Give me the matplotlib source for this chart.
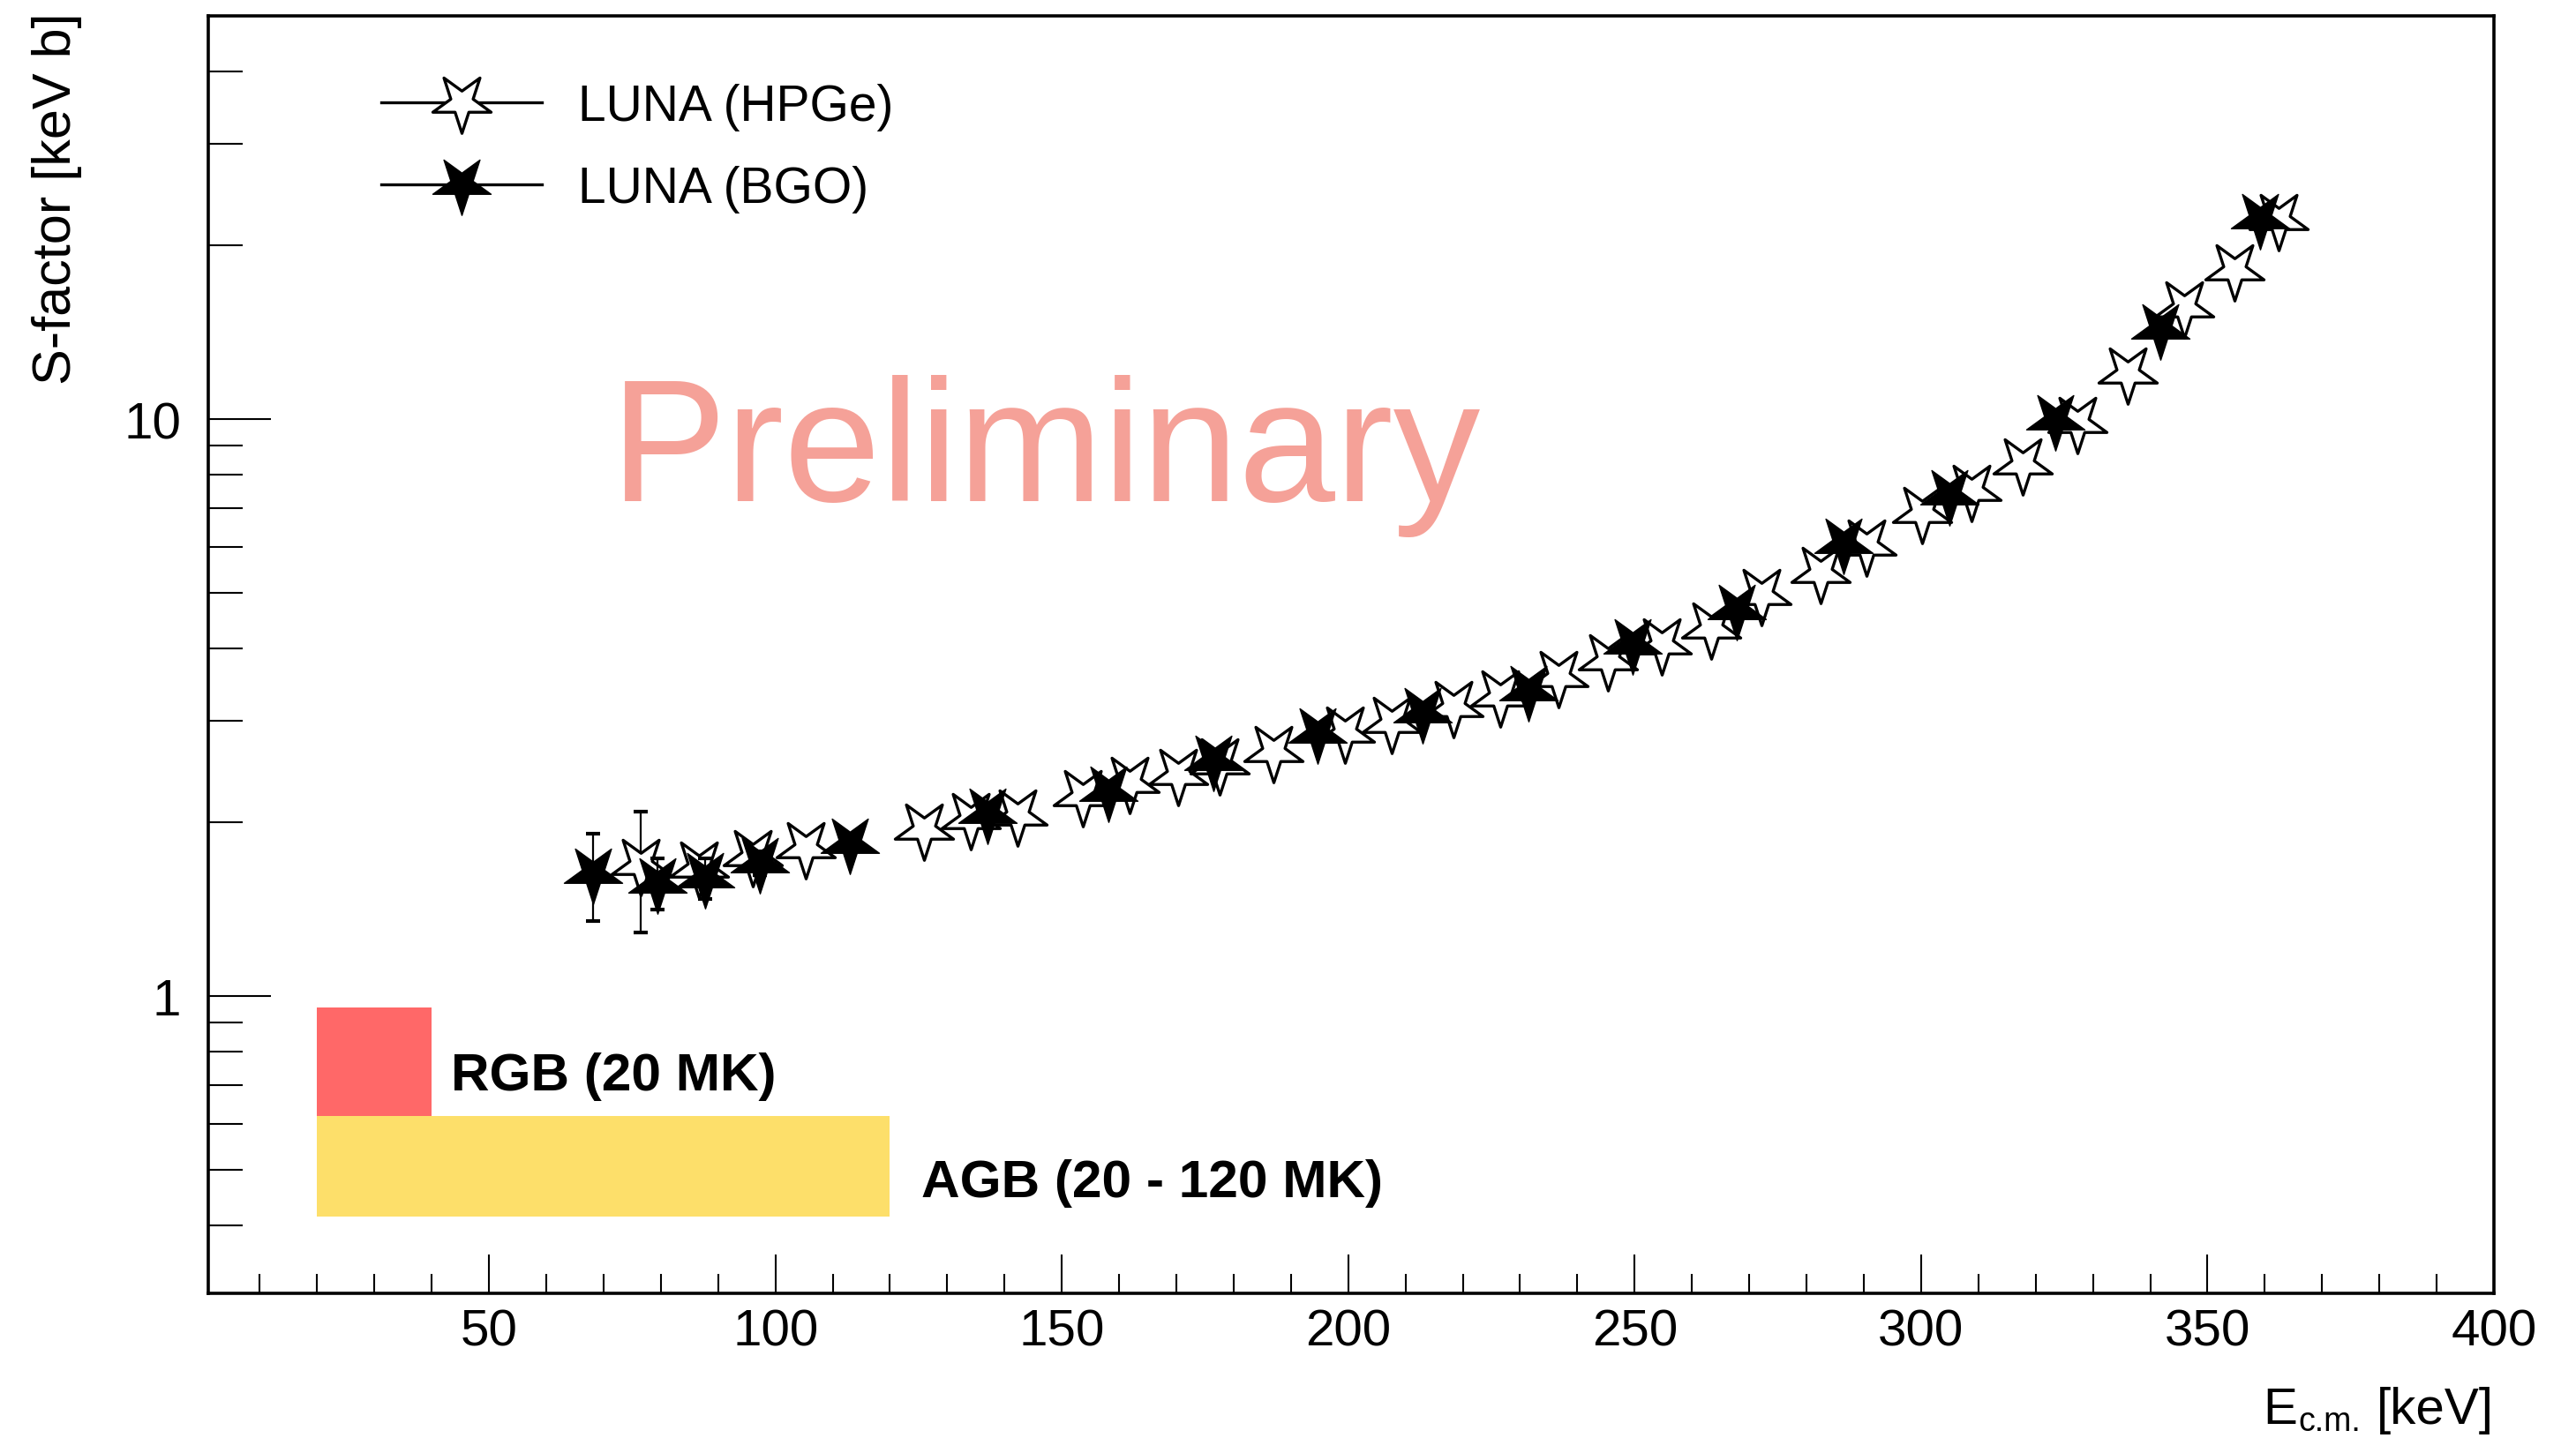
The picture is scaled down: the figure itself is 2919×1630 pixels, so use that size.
import numpy as np
import matplotlib
matplotlib.use("Agg")
import matplotlib.pyplot as plt
from matplotlib.path import Path
from matplotlib.markers import MarkerStyle
from matplotlib.lines import Line2D
from matplotlib.ticker import FixedLocator, FixedFormatter, MultipleLocator, NullFormatter

plt.rcParams['font.family'] = ['Liberation Sans', 'DejaVu Sans']

# ---------------- data ----------------
hpge_e = [76.5, 86.6, 96.0, 105.3, 125.9, 134.1, 142.3, 153.7, 161.9, 170.3,
          177.6, 186.9, 199.4, 207.6, 218.3, 226.6, 236.7, 245.3, 254.7, 263.4,
          272.1, 282.5, 290.5, 300.2, 308.8, 317.7, 327.3, 336.0, 346.0, 354.7, 362.4]
hpge_s = [1.69, 1.67, 1.75, 1.805, 1.945, 2.03, 2.06, 2.22, 2.34, 2.42,
          2.52, 2.65, 2.86, 2.98, 3.175, 3.31, 3.57, 3.83, 4.07, 4.34,
          4.96, 5.42, 6.04, 6.88, 7.52, 8.36, 9.85, 12.02, 15.65, 18.16, 22.16]
hpge_err = [0.40, 0.08, 0.06, 0.05, 0.05, 0.05, 0.05, 0.05, 0.05, 0.05,
            0.05, 0.05, 0.05, 0.05, 0.06, 0.06, 0.06, 0.07, 0.07, 0.08,
            0.09, 0.10, 0.11, 0.12, 0.13, 0.15, 0.17, 0.2, 0.25, 0.3, 0.35]

bgo_e = [68.1, 79.4, 87.8, 97.3, 113.0, 137.0, 158.1, 176.4, 194.6, 213.0,
         231.4, 249.6, 267.8, 286.5, 305.0, 323.5, 341.8, 359.1]
bgo_s = [1.63, 1.57, 1.60, 1.70, 1.84, 2.075, 2.26, 2.56, 2.85, 3.10,
         3.38, 4.08, 4.68, 6.09, 7.38, 9.96, 14.33, 22.28]
bgo_err = [0.28, 0.16, 0.13, 0.08, 0.05, 0.05, 0.05, 0.05, 0.05, 0.06,
           0.06, 0.07, 0.08, 0.1, 0.12, 0.17, 0.25, 0.35]

rgb_x = [20, 40]
rgb_y = [0.62, 0.955]
agb_x = [20, 120]
agb_y = [0.415, 0.62]

x_major = [50, 100, 150, 200, 250, 300, 350, 400]
y_major = [1, 10]
y_major_labels = ['1', '10']
y_minor = [0.4, 0.5, 0.6, 0.7, 0.8, 0.9, 2, 3, 4, 5, 6, 7, 8, 9, 20, 30, 40]

# ---------------- figure ----------------
W, H = 2919, 1631
fig = plt.figure(figsize=(W / 100, H / 100), dpi=100)
ax = fig.add_axes([236 / W, 1 - 1467 / H, (2826 - 236) / W, (1467 - 19) / H])

# inverted star marker (ROOT-like)
base = Path.unit_regular_star(5, 0.381966)
verts = base.vertices.copy()
verts[:, 1] *= -1
star = MarkerStyle(Path(verts, base.codes))
MS = 50

# bands
ax.fill_between(agb_x, agb_y[0], agb_y[1], color='#FDDF6A', lw=0, zorder=1)
ax.fill_between(rgb_x, rgb_y[0], rgb_y[1], color='#FF6868', lw=0, zorder=1)
ax.text(43.4, 0.689, 'RGB (20 MK)', fontsize=43.5, fontweight='bold', ha='left', va='baseline', zorder=2)
ax.text(125.5, 0.450, 'AGB (20 - 120 MK)', fontsize=43.5, fontweight='bold', ha='left', va='baseline', zorder=2)

# HPGe
ax.errorbar(hpge_e, hpge_s, yerr=hpge_err, fmt='none', ecolor='k', elinewidth=1.6,
            capsize=5.5, capthick=3, zorder=3)
ax.plot(hpge_e, hpge_s, ls='none', marker=star, ms=MS, mfc='white', mec='k', mew=2.4, zorder=4)
# BGO
ax.errorbar(bgo_e, bgo_s, yerr=bgo_err, fmt='none', ecolor='k', elinewidth=1.6,
            capsize=5.5, capthick=3, zorder=5)
ax.plot(bgo_e, bgo_s, ls='none', marker=star, ms=MS, mfc='k', mec='k', mew=1.0, zorder=6)

# axes
ax.set_yscale('log')
ax.set_xlim(1, 400)
ax.set_ylim(0.305, 50)
ax.xaxis.set_major_locator(FixedLocator(x_major))
ax.xaxis.set_minor_locator(MultipleLocator(10))
ax.yaxis.set_major_locator(FixedLocator(y_major))
ax.yaxis.set_major_formatter(FixedFormatter(y_major_labels))
ax.yaxis.set_minor_locator(FixedLocator(y_minor))
ax.yaxis.set_minor_formatter(NullFormatter())

ax.tick_params(axis='x', which='major', direction='in', length=32, width=1.5,
               labelsize=42, pad=12, top=False)
ax.tick_params(axis='x', which='minor', direction='in', length=16, width=1.5, top=False)
ax.tick_params(axis='y', which='major', direction='in', length=51, width=1.5,
               labelsize=42, pad=22, right=False)
ax.tick_params(axis='y', which='minor', direction='in', length=28, width=1.5, right=False)
for s in ax.spines.values():
    s.set_linewidth(2.6)

fig.text(65 / W, 1 - 14 / H, 'S-factor [keV b]', rotation=90, ha='center', va='top', fontsize=44)

# x-axis title built from pieces: E, subscript "c.m.", "[keV]"
renderer = fig.canvas.get_renderer()
t_kev = fig.text(2826 / W, 1 - 1614 / H, '[keV]', ha='right', va='baseline', fontsize=42)
bb = t_kev.get_window_extent(renderer)
sub_right = bb.x0 - 18
t_sub = fig.text(sub_right / W, 1 - 1622 / H, 'c.m.', ha='right', va='baseline', fontsize=27)
bb2 = t_sub.get_window_extent(renderer)
fig.text((bb2.x0 - 1) / W, 1 - 1614 / H, 'E', ha='right', va='baseline', fontsize=42)

fig.text(692 / W, 1 - 568 / H, 'Preliminary', color='#F5A198', fontsize=142,
         ha='left', va='baseline')

# legend
h1 = Line2D([], [], color='k', lw=2.4, marker=star, ms=MS, mfc='white', mec='k', mew=2.4)
h2 = Line2D([], [], color='k', lw=2.4, marker=star, ms=MS, mfc='k', mec='k', mew=1.0)
ax.legend([h1, h2], ['LUNA (HPGe)', 'LUNA (BGO)'], loc='upper left',
          bbox_to_anchor=(432 / W, 1 - 95 / H), bbox_transform=fig.transFigure,
          frameon=False, fontsize=41, handlelength=3.2, handletextpad=0.72,
          labelspacing=0.68, borderpad=0, borderaxespad=0, numpoints=1)

fig.savefig('out.png', dpi=100)
